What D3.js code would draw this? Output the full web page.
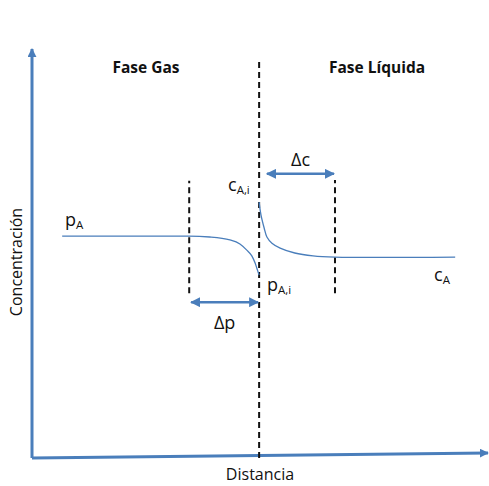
<!DOCTYPE html>
<html><head><meta charset="utf-8">
<script src="https://cdn.jsdelivr.net/npm/d3@7"></script>
<style>body{margin:0;background:#fff}svg{display:block}text{font-family:"Open Sans","Noto Sans",sans-serif;fill:#111}</style>
</head><body><div id="chart"></div>
<script>
// Data (arbitrary units: distance 0-100, concentration 0-100)
const gasX = [6.6, 34.4, 38.9, 43.3, 45.5, 47.0, 48.1, 48.8, 49.2, 49.7];
const gasY = [54.1, 54.1, 53.9, 53.2, 52.2, 50.7, 49.3, 47.6, 46.3, 44.6];
const liqX = [49.7, 50.1, 50.8, 51.4, 52.5, 54.3, 57.5, 61.5, 66.3, 92.6];
const liqY = [62.4, 59.3, 56.1, 53.9, 52.4, 51.2, 50.0, 49.3, 49.0, 49.0];
const dashX = [34.4, 49.7, 66.3];
const dashY0 = [40.2, 0, 40.2];
const dashY1 = [67.6, 97.1, 67.8];
const deltaLabels = ["Δp", "Δc"];
const deltaX0 = [34.6, 51.2];
const deltaX1 = [49.7, 66.3];
const deltaY = [38.0, 69.3];
const phaseLabels = ["Fase Gas", "Fase Líquida"];

const W = 489, H = 486;
const svg = d3.select("#chart").append("svg").attr("width", W).attr("height", H);
const x = d3.scaleLinear().domain([0, 100]).range([32, 489]);
const y = d3.scaleLinear().domain([0, 100]).range([458, 48]);
const blue = "#4a7ebb";

const defs = svg.append("defs");
function marker(id, w, h) {
  defs.append("marker").attr("id", id).attr("markerUnits", "userSpaceOnUse")
    .attr("viewBox", "0 0 10 10").attr("refX", 9).attr("refY", 5)
    .attr("markerWidth", w).attr("markerHeight", h).attr("orient", "auto-start-reverse")
    .append("path").attr("d", "M0,0L10,5L0,10Z").attr("fill", blue);
}
marker("axArrow", 9, 9);
marker("dArrow", 10, 10);

// Axes
svg.append("line").attr("x1", x(0)).attr("y1", y(0)).attr("x2", x(0)).attr("y2", y(100) + 1)
  .attr("stroke", blue).attr("stroke-width", 3).attr("marker-end", "url(#axArrow)");
svg.append("line").attr("x1", x(0)).attr("y1", y(0)).attr("x2", x(100) - 1).attr("y2", y(0) - 5)
  .attr("stroke", blue).attr("stroke-width", 3).attr("marker-end", "url(#axArrow)");

// Dashed interface lines
dashX.forEach((d, i) => {
  svg.append("line").attr("x1", x(d)).attr("x2", x(d)).attr("y1", y(dashY0[i])).attr("y2", y(dashY1[i]))
    .attr("stroke", "#111").attr("stroke-width", 2).attr("stroke-dasharray", "6,4");
});

// Profiles
const line = d3.line().x(d => x(d[0])).y(d => y(d[1])).curve(d3.curveMonotoneX);
svg.append("path").datum(d3.zip(gasX, gasY)).attr("d", line)
  .attr("fill", "none").attr("stroke", blue).attr("stroke-width", 1.3);
svg.append("path").datum(d3.zip(liqX, liqY)).attr("d", d3.line().x(d => x(d[0])).y(d => y(d[1])).curve(d3.curveCatmullRom))
  .attr("fill", "none").attr("stroke", blue).attr("stroke-width", 1.3);

// Delta arrows
deltaLabels.forEach((lab, i) => {
  svg.append("line").attr("x1", x(deltaX0[i]) + 1).attr("x2", x(deltaX1[i]) - 1)
    .attr("y1", y(deltaY[i])).attr("y2", y(deltaY[i]))
    .attr("stroke", blue).attr("stroke-width", 2.5)
    .attr("marker-start", "url(#dArrow)").attr("marker-end", "url(#dArrow)");
  const cx = (x(deltaX0[i]) + x(deltaX1[i])) / 2;
  svg.append("text").attr("x", cx).attr("y", i === 0 ? y(deltaY[i]) + 27 : y(deltaY[i]) - 8)
    .attr("text-anchor", "middle").attr("font-size", 18).text(lab);
});

// Phase labels
svg.append("text").attr("x", 146).attr("y", 73).attr("text-anchor", "middle")
  .attr("font-size", 15.5).attr("font-weight", "bold").text(phaseLabels[0]);
svg.append("text").attr("x", 377).attr("y", 73).attr("text-anchor", "middle")
  .attr("font-size", 15.5).attr("font-weight", "bold").text(phaseLabels[1]);

// Axis titles
svg.append("text").attr("x", 260).attr("y", 480).attr("text-anchor", "middle")
  .attr("font-size", 16).text("Distancia");
svg.append("text").attr("transform", "translate(22,262) rotate(-90)").attr("text-anchor", "middle")
  .attr("font-size", 16).text("Concentración");

// Subscripted labels
function sublabel(px, py, main, sub) {
  const t = svg.append("text").attr("x", px).attr("y", py).attr("font-size", 18);
  t.append("tspan").text(main);
  t.append("tspan").attr("font-size", 11.5).attr("dy", 3).text(sub);
}
sublabel(65, 226, "p", "A");
sublabel(228, 191, "c", "A,i");
sublabel(267, 291, "p", "A,i");
sublabel(434, 281, "c", "A");
</script></body></html>
